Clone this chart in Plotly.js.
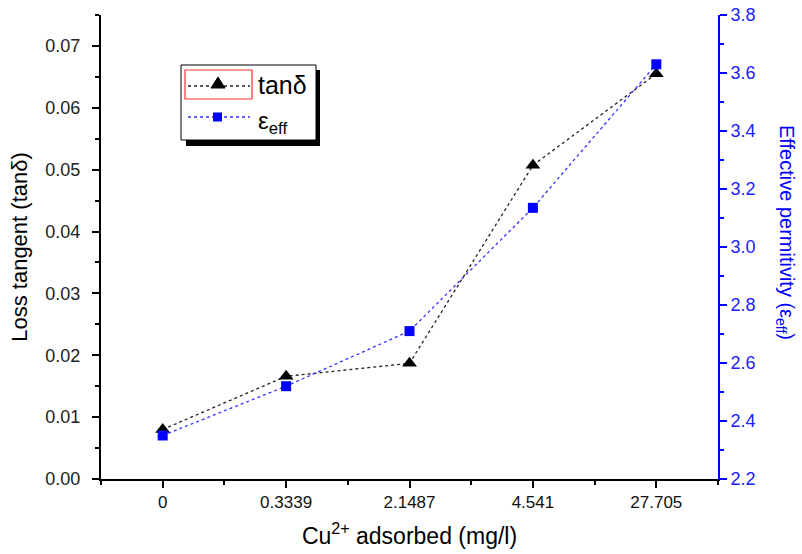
<!DOCTYPE html>
<html>
<head>
<meta charset="utf-8">
<script src="https://cdn.plot.ly/plotly-3.0.1.min.js"></script>
<style>html,body{margin:0;padding:0;background:#fff;}#chart{width:802px;height:554px;}</style>
</head>
<body>
<div id="chart"></div>
<script>
// ---- data ----
const categories = ['0', '0.3339', '2.1487', '4.541', '27.705'];
const tanDelta = [0.0080, 0.0166, 0.0187, 0.0507, 0.0655];
const epsEff = [2.35, 2.52, 2.71, 3.135, 3.63];
const seriesNames = ['tanδ', 'ε<sub>eff</sub>'];

const xIdx = categories.map((_, i) => i);

// plot-area geometry (pixels)
const L = 101, R = 718, T = 15, B = 479;
const W = 802, H = 554;
const px = X => (X - L) / (R - L);
const py = Y => (B - Y) / (B - T);

const FONT = 'Liberation Sans, Arial, sans-serif';

const traces = [
  {
    x: xIdx, y: tanDelta, name: seriesNames[0], type: 'scatter', mode: 'lines+markers',
    line: {color: '#222', width: 1.3, dash: 'dot'},
    marker: {symbol: 'triangle-up', size: 13, color: '#000'},
    yaxis: 'y', showlegend: false
  },
  {
    x: xIdx, y: epsEff, name: seriesNames[1], type: 'scatter', mode: 'lines+markers',
    line: {color: '#3333ff', width: 1.3, dash: 'dot'},
    marker: {symbol: 'square', size: 10, color: '#0000ff'},
    yaxis: 'y2', showlegend: false
  }
];

// legend box drawn as decorations
const legendShapes = [
  {type: 'rect', xref: 'paper', yref: 'paper', x0: px(186), x1: px(320), y0: py(146), y1: py(70),
   fillcolor: '#000', line: {width: 0}},
  {type: 'rect', xref: 'paper', yref: 'paper', x0: px(181), x1: px(316), y0: py(140), y1: py(65),
   fillcolor: '#fff', line: {color: '#000', width: 1}},
  {type: 'rect', xref: 'paper', yref: 'paper', x0: px(185), x1: px(252), y0: py(99), y1: py(70),
   line: {color: '#ff3030', width: 1.2}},
  {type: 'line', xref: 'paper', yref: 'paper', x0: px(188), x1: px(250), y0: py(86), y1: py(86),
   line: {color: '#222', width: 1.3, dash: 'dot'}},
  {type: 'path', xref: 'paper', yref: 'paper',
   path: `M ${px(211)} ${py(88)} L ${px(225)} ${py(88)} L ${px(218)} ${py(77)} Z`,
   fillcolor: '#000', line: {color: '#000', width: 1}},
  {type: 'line', xref: 'paper', yref: 'paper', x0: px(188), x1: px(250), y0: py(117), y1: py(117),
   line: {color: '#3333ff', width: 1.3, dash: 'dot'}},
  {type: 'rect', xref: 'paper', yref: 'paper', x0: px(213), x1: px(222), y0: py(121.5), y1: py(112.5),
   fillcolor: '#0000ff', line: {width: 0}}
];

const annotations = [
  {xref: 'paper', yref: 'paper', x: px(256), y: py(85), xanchor: 'left', yanchor: 'middle',
   text: seriesNames[0], showarrow: false, font: {family: FONT, size: 25, color: '#000'}},
  {xref: 'paper', yref: 'paper', x: px(256), y: py(122), xanchor: 'left', yanchor: 'middle',
   text: seriesNames[1], showarrow: false, font: {family: FONT, size: 24, color: '#000'}},
  {xref: 'paper', yref: 'paper', x: px(786), y: py(232), xanchor: 'center', yanchor: 'middle',
   text: 'Effective permitivity (ε<sub>eff</sub>)', textangle: 90, showarrow: false,
   font: {family: FONT, size: 20, color: '#0000ff'}}
];

const layout = {
  width: W, height: H,
  margin: {l: L, r: W - R, t: T, b: H - B, pad: 0},
  paper_bgcolor: '#fff', plot_bgcolor: '#fff',
  font: {family: FONT, size: 17, color: '#111'},
  showlegend: false,
  xaxis: {
    range: [-0.5, 4.5], tickmode: 'array', tickvals: xIdx, ticktext: categories,
    showgrid: false, zeroline: false, showline: true, linecolor: '#000', linewidth: 2,
    ticks: 'outside', ticklen: 7, tickwidth: 2, tickcolor: '#000',
    minor: {tickmode: 'linear', tick0: -0.5, dtick: 1, ticks: 'outside', ticklen: 4, tickwidth: 2, tickcolor: '#000'},
    tickfont: {family: FONT, size: 17, color: '#111'},
    title: {text: 'Cu<sup>2+</sup> adsorbed (mg/l)', font: {family: FONT, size: 23, color: '#000'}, standoff: 16}
  },
  yaxis: {
    range: [0, 0.075], dtick: 0.01, tick0: 0, tickformat: '.2f',
    showgrid: false, zeroline: false, showline: true, linecolor: '#000', linewidth: 2,
    ticks: 'outside', ticklen: 7, tickwidth: 2, tickcolor: '#000', ticklabelstandoff: 8,
    minor: {dtick: 0.005, ticks: 'outside', ticklen: 4, tickwidth: 2, tickcolor: '#000'},
    tickfont: {family: FONT, size: 18, color: '#222'},
    title: {text: 'Loss tangent (tanδ)', font: {family: FONT, size: 22, color: '#000'}, standoff: 12}
  },
  yaxis2: {
    overlaying: 'y', side: 'right', anchor: 'x',
    range: [2.2, 3.8], dtick: 0.2, tick0: 2.2, tickformat: '.1f',
    showgrid: false, zeroline: false, showline: true, linecolor: '#0000ff', linewidth: 2,
    ticks: 'outside', ticklen: 7, tickwidth: 2, tickcolor: '#0000ff',
    minor: {dtick: 0.1, ticks: 'outside', ticklen: 4, tickwidth: 2, tickcolor: '#0000ff'},
    tickfont: {family: FONT, size: 18, color: '#2020ff'}
  },
  shapes: legendShapes,
  annotations: annotations
};

Plotly.newPlot('chart', traces, layout, {staticPlot: true, displayModeBar: false});
</script>
</body>
</html>
